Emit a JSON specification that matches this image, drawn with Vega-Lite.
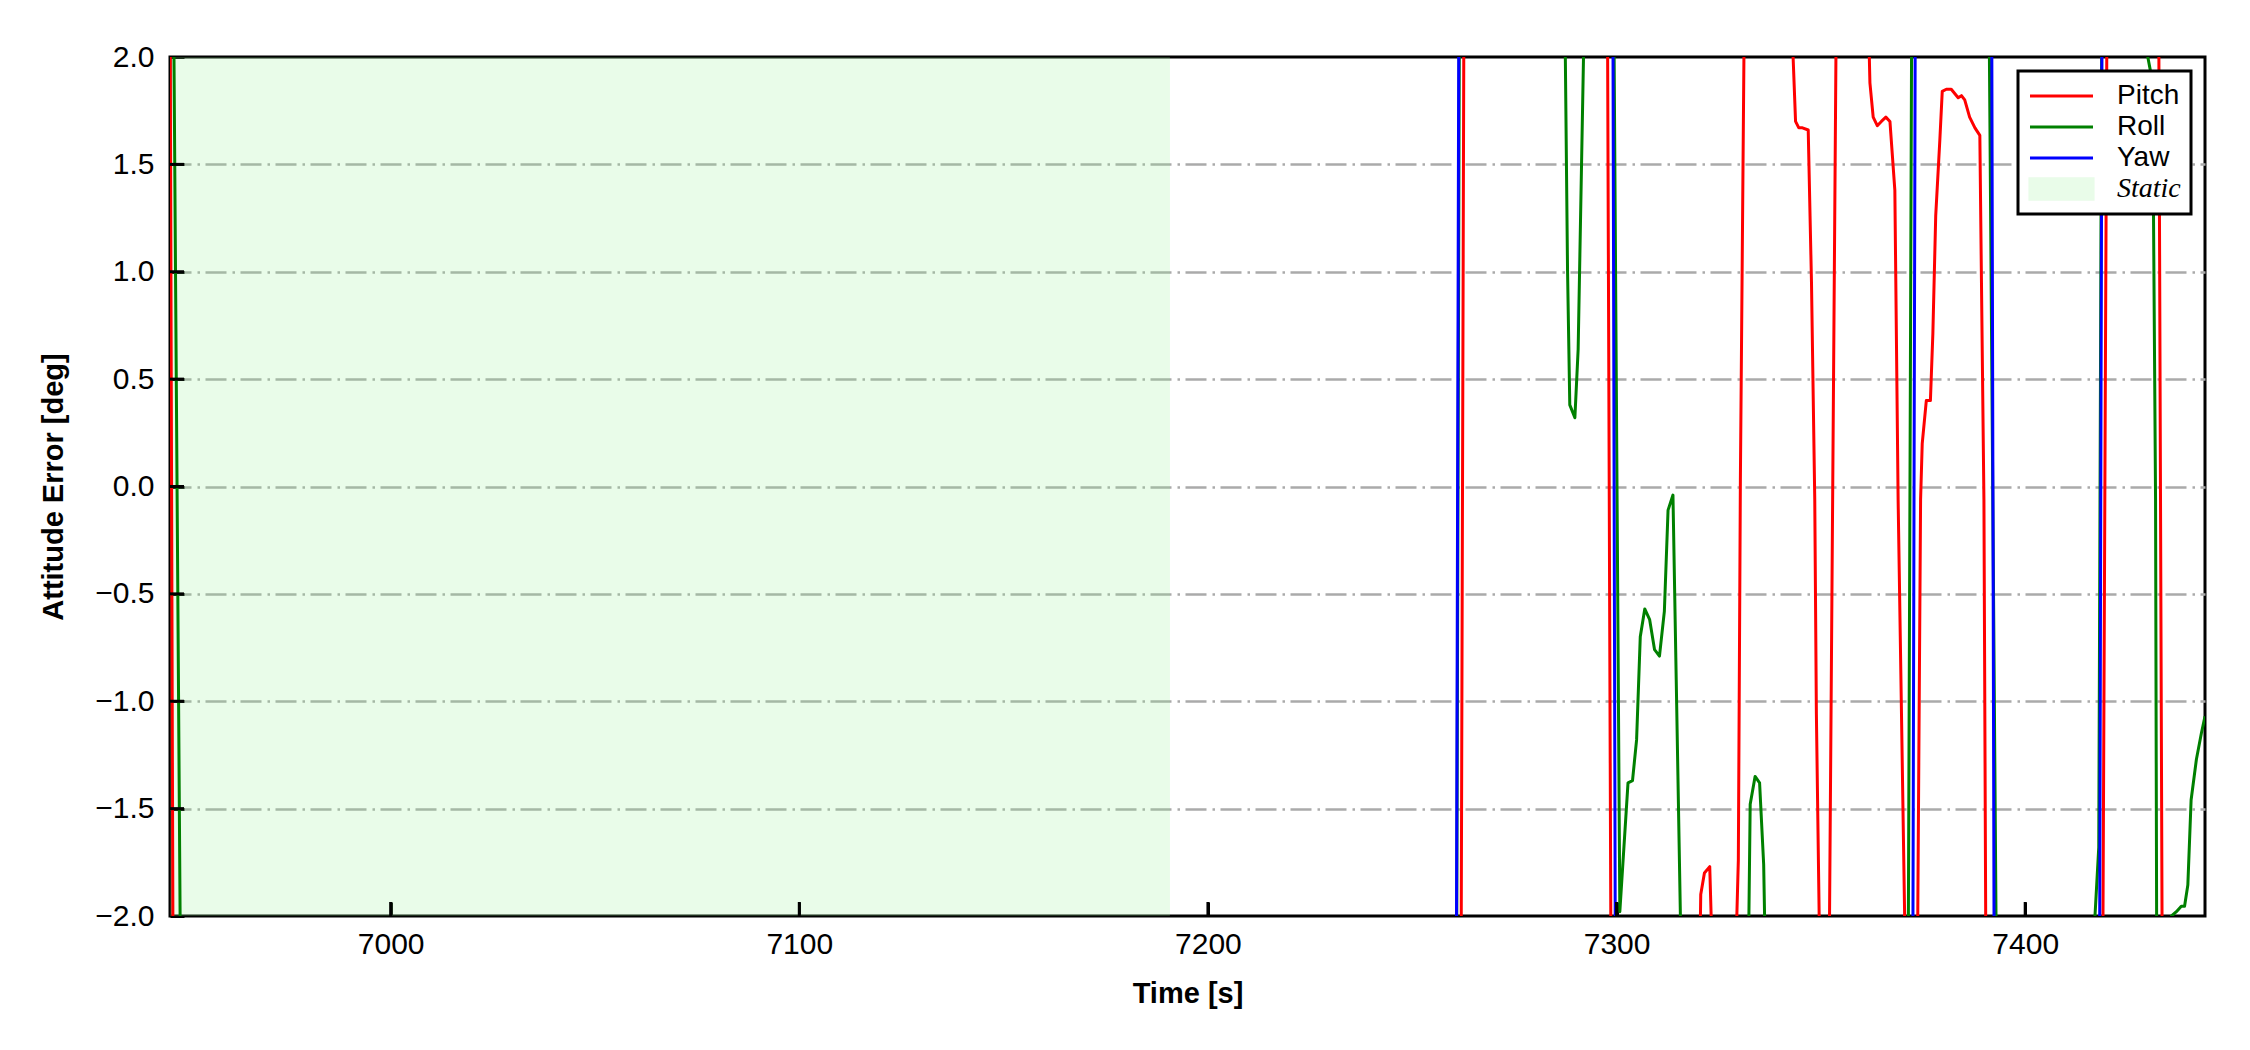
{
  "$schema": "https://vega.github.io/schema/vega-lite/v6.json",
  "width": 2035,
  "height": 859,
  "autosize": {"type": "none"},
  "padding": {"left": 170, "top": 57, "right": 45, "bottom": 134},
  "background": "white",
  "config": {
    "font": "Liberation Sans",
    "view": {"stroke": "black", "strokeWidth": 3},
    "axis": {
      "domain": false,
      "labelColor": "black",
      "titleColor": "black",
      "labelFont": "Liberation Sans",
      "titleFont": "Liberation Sans",
      "labelFontSize": 30,
      "titleFontSize": 29,
      "titleFontWeight": "bold",
      "tickColor": "black",
      "tickWidth": 3,
      "tickSize": -14
    }
  },
  "layer": [
    {
      "data": {"values": [{"t0": 6946, "t1": 7190.7}]},
      "mark": {"type": "rect", "color": "#90ee90", "opacity": 0.2},
      "encoding": {
        "x": {
          "field": "t0", "type": "quantitative",
          "scale": {"domain": [6946, 7444], "nice": false, "zero": false},
          "axis": {"values": [7000, 7100, 7200, 7300, 7400], "format": "d", "grid": false, "labelPadding": 27, "title": "Time [s]", "titlePadding": 20}
        },
        "x2": {"field": "t1"}
      }
    },
    {
      "data": {"values": [
        {"t": 6946.0, "v": 2.4, "s": "Pitch"},
        {"t": 6946.8, "v": -2.6, "s": "Pitch"},
        {"t": 7261.9, "v": -2.6, "s": "Pitch"},
        {"t": 7262.7, "v": 2.6, "s": "Pitch"},
        {"t": 7297.7, "v": 2.6, "s": "Pitch"},
        {"t": 7298.7, "v": -2.6, "s": "Pitch"},
        {"t": 7320.3, "v": -2.3, "s": "Pitch"},
        {"t": 7320.6, "v": -1.9, "s": "Pitch"},
        {"t": 7321.5, "v": -1.8, "s": "Pitch"},
        {"t": 7322.8, "v": -1.77, "s": "Pitch"},
        {"t": 7323.6, "v": -2.3, "s": "Pitch"},
        {"t": 7329.0, "v": -2.3, "s": "Pitch"},
        {"t": 7329.8, "v": -1.74, "s": "Pitch"},
        {"t": 7330.3, "v": 0.03, "s": "Pitch"},
        {"t": 7331.3, "v": 2.3, "s": "Pitch"},
        {"t": 7342.8, "v": 2.2, "s": "Pitch"},
        {"t": 7343.8, "v": 1.7, "s": "Pitch"},
        {"t": 7344.6, "v": 1.67, "s": "Pitch"},
        {"t": 7345.5, "v": 1.67, "s": "Pitch"},
        {"t": 7346.9, "v": 1.66, "s": "Pitch"},
        {"t": 7347.7, "v": 0.95, "s": "Pitch"},
        {"t": 7348.5, "v": -0.06, "s": "Pitch"},
        {"t": 7348.9, "v": -1.06, "s": "Pitch"},
        {"t": 7349.8, "v": -2.3, "s": "Pitch"},
        {"t": 7352.0, "v": -2.3, "s": "Pitch"},
        {"t": 7353.8, "v": 2.3, "s": "Pitch"},
        {"t": 7361.6, "v": 2.2, "s": "Pitch"},
        {"t": 7362.0, "v": 1.88, "s": "Pitch"},
        {"t": 7362.8, "v": 1.72, "s": "Pitch"},
        {"t": 7363.8, "v": 1.68, "s": "Pitch"},
        {"t": 7364.8, "v": 1.7, "s": "Pitch"},
        {"t": 7365.9, "v": 1.72, "s": "Pitch"},
        {"t": 7366.9, "v": 1.7, "s": "Pitch"},
        {"t": 7368.1, "v": 1.38, "s": "Pitch"},
        {"t": 7368.9, "v": -0.06, "s": "Pitch"},
        {"t": 7370.5, "v": -2.0, "s": "Pitch"},
        {"t": 7370.8, "v": -2.3, "s": "Pitch"},
        {"t": 7373.6, "v": -2.3, "s": "Pitch"},
        {"t": 7374.4, "v": -0.06, "s": "Pitch"},
        {"t": 7374.8, "v": 0.2, "s": "Pitch"},
        {"t": 7375.8, "v": 0.4, "s": "Pitch"},
        {"t": 7376.8, "v": 0.4, "s": "Pitch"},
        {"t": 7377.4, "v": 0.71, "s": "Pitch"},
        {"t": 7378.1, "v": 1.26, "s": "Pitch"},
        {"t": 7379.1, "v": 1.61, "s": "Pitch"},
        {"t": 7379.7, "v": 1.84, "s": "Pitch"},
        {"t": 7380.7, "v": 1.85, "s": "Pitch"},
        {"t": 7381.9, "v": 1.85, "s": "Pitch"},
        {"t": 7383.6, "v": 1.81, "s": "Pitch"},
        {"t": 7384.4, "v": 1.82, "s": "Pitch"},
        {"t": 7385.2, "v": 1.8, "s": "Pitch"},
        {"t": 7386.4, "v": 1.72, "s": "Pitch"},
        {"t": 7387.7, "v": 1.67, "s": "Pitch"},
        {"t": 7388.9, "v": 1.635, "s": "Pitch"},
        {"t": 7389.3, "v": 0.945, "s": "Pitch"},
        {"t": 7389.9, "v": -0.06, "s": "Pitch"},
        {"t": 7390.4, "v": -2.3, "s": "Pitch"},
        {"t": 7418.9, "v": -2.6, "s": "Pitch"},
        {"t": 7420.1, "v": 2.6, "s": "Pitch"},
        {"t": 7432.6, "v": 2.6, "s": "Pitch"},
        {"t": 7433.6, "v": -2.6, "s": "Pitch"},
        {"t": 7444.0, "v": -2.6, "s": "Pitch"},

        {"t": 6946.0, "v": 4.6, "s": "Roll"},
        {"t": 6949.0, "v": -3.4, "s": "Roll"},
        {"t": 7260.8, "v": -2.6, "s": "Roll"},
        {"t": 7261.6, "v": 2.6, "s": "Roll"},
        {"t": 7287.3, "v": 2.3, "s": "Roll"},
        {"t": 7288.0, "v": 1.01, "s": "Roll"},
        {"t": 7288.55, "v": 0.38, "s": "Roll"},
        {"t": 7289.8, "v": 0.32, "s": "Roll"},
        {"t": 7290.6, "v": 0.64, "s": "Roll"},
        {"t": 7292.2, "v": 2.3, "s": "Roll"},
        {"t": 7299.3, "v": 2.3, "s": "Roll"},
        {"t": 7300.8, "v": -1.98, "s": "Roll"},
        {"t": 7302.8, "v": -1.38, "s": "Roll"},
        {"t": 7303.9, "v": -1.37, "s": "Roll"},
        {"t": 7304.9, "v": -1.18, "s": "Roll"},
        {"t": 7305.8, "v": -0.7, "s": "Roll"},
        {"t": 7306.9, "v": -0.57, "s": "Roll"},
        {"t": 7308.1, "v": -0.62, "s": "Roll"},
        {"t": 7309.3, "v": -0.76, "s": "Roll"},
        {"t": 7310.5, "v": -0.79, "s": "Roll"},
        {"t": 7311.7, "v": -0.58, "s": "Roll"},
        {"t": 7312.6, "v": -0.11, "s": "Roll"},
        {"t": 7313.8, "v": -0.04, "s": "Roll"},
        {"t": 7314.6, "v": -0.9, "s": "Roll"},
        {"t": 7315.9, "v": -2.3, "s": "Roll"},
        {"t": 7332.2, "v": -2.3, "s": "Roll"},
        {"t": 7332.7, "v": -1.48, "s": "Roll"},
        {"t": 7333.9, "v": -1.35, "s": "Roll"},
        {"t": 7335.0, "v": -1.38, "s": "Roll"},
        {"t": 7336.0, "v": -1.76, "s": "Roll"},
        {"t": 7336.5, "v": -2.3, "s": "Roll"},
        {"t": 7371.3, "v": -2.6, "s": "Roll"},
        {"t": 7372.3, "v": 2.6, "s": "Roll"},
        {"t": 7391.0, "v": 2.6, "s": "Roll"},
        {"t": 7393.1, "v": -2.6, "s": "Roll"},
        {"t": 7416.5, "v": -2.2, "s": "Roll"},
        {"t": 7418.0, "v": -1.68, "s": "Roll"},
        {"t": 7418.8, "v": 2.5, "s": "Roll"},
        {"t": 7429.3, "v": 2.3, "s": "Roll"},
        {"t": 7430.0, "v": 2.0, "s": "Roll"},
        {"t": 7430.6, "v": 1.94, "s": "Roll"},
        {"t": 7431.4, "v": 1.26, "s": "Roll"},
        {"t": 7431.9, "v": -0.06, "s": "Roll"},
        {"t": 7432.2, "v": -2.3, "s": "Roll"},
        {"t": 7435.0, "v": -2.3, "s": "Roll"},
        {"t": 7435.8, "v": -2.0, "s": "Roll"},
        {"t": 7437.0, "v": -1.98, "s": "Roll"},
        {"t": 7438.2, "v": -1.955, "s": "Roll"},
        {"t": 7439.0, "v": -1.955, "s": "Roll"},
        {"t": 7439.8, "v": -1.856, "s": "Roll"},
        {"t": 7440.6, "v": -1.46, "s": "Roll"},
        {"t": 7441.9, "v": -1.27, "s": "Roll"},
        {"t": 7443.1, "v": -1.15, "s": "Roll"},
        {"t": 7444.0, "v": -1.07, "s": "Roll"},

        {"t": 6946.0, "v": -3, "s": "Yaw"},
        {"t": 7260.7, "v": -3, "s": "Yaw"},
        {"t": 7261.5, "v": 3, "s": "Yaw"},
        {"t": 7299.0, "v": 3, "s": "Yaw"},
        {"t": 7299.8, "v": -3, "s": "Yaw"},
        {"t": 7372.4, "v": -3, "s": "Yaw"},
        {"t": 7373.2, "v": 3, "s": "Yaw"},
        {"t": 7391.7, "v": 3, "s": "Yaw"},
        {"t": 7392.5, "v": -3, "s": "Yaw"},
        {"t": 7418.1, "v": -3, "s": "Yaw"},
        {"t": 7418.9, "v": 3, "s": "Yaw"},
        {"t": 7444.0, "v": 3, "s": "Yaw"}
      ]},
      "mark": {"type": "line", "clip": true, "strokeWidth": 3, "strokeJoin": "round"},
      "encoding": {
        "x": {
          "field": "t", "type": "quantitative",
          "scale": {"domain": [6946, 7444], "nice": false, "zero": false},
          "axis": {"values": [7000, 7100, 7200, 7300, 7400], "format": "d", "grid": false, "labelPadding": 27, "title": "Time [s]", "titlePadding": 20}
        },
        "y": {
          "field": "v", "type": "quantitative",
          "scale": {"domain": [-2, 2], "nice": false, "zero": false},
          "axis": {
            "values": [-2, -1.5, -1, -0.5, 0, 0.5, 1, 1.5, 2],
            "format": ".1f",
            "grid": true,
            "gridColor": "#aaaaaa",
            "gridDash": [21, 6, 2.5, 5.5],
            "gridWidth": 2.5,
            "gridOpacity": {"condition": {"test": "abs(datum.value) >= 2", "value": 0}, "value": 1},
            "labelPadding": 30,
            "title": "Attitude Error [deg]",
            "titlePadding": 26
          }
        },
        "color": {
          "field": "s", "type": "nominal",
          "scale": {"domain": ["Pitch", "Roll", "Yaw", "Static"], "range": ["#ff0000", "#008000", "#0000ff", "#e9fce9"]},
          "legend": {
            "title": null,
            "orient": "top-right",
            "offset": 14,
            "padding": 10,
            "strokeColor": "black",
            "fillColor": "white",
            "labelFontSize": 28,
            "labelFont": "Liberation Sans",
            "labelColor": "black",
            "labelOffset": 22,
            "symbolSize": 3969,
            "symbolStrokeWidth": 3.2,
            "symbolType": "stroke",
            "clipHeight": 30,
            "rowPadding": 1,
            "encode": {
              "legend": {
                "update": {
                  "strokeWidth": {"value": 3}
                }
              },
              "symbols": {
                "update": {
                  "shape": {"signal": "datum.value === 'Static' ? 'M-1,-0.32L1,-0.32L1,0.32L-1,0.32Z' : 'stroke'"},
                  "fill": {"signal": "datum.value === 'Static' ? '#e9fce9' : 'transparent'"},
                  "stroke": {"signal": "datum.value === 'Static' ? 'transparent' : scale('color', datum.value)"},
                  "opacity": {"value": 1}
                }
              },
              "labels": {
                "update": {
                  "font": {"signal": "datum.value === 'Static' ? 'Liberation Serif' : 'Liberation Sans'"},
                  "fontStyle": {"signal": "datum.value === 'Static' ? 'italic' : 'normal'"}
                }
              }
            }
          }
        }
      }
    },
    {
      "data": {"values": [{"t": 7000}, {"t": 7100}, {"t": 7200}, {"t": 7300}, {"t": 7400}]},
      "mark": {"type": "tick", "orient": "vertical", "size": 14, "thickness": 3, "color": "black", "opacity": 1, "yOffset": -7},
      "encoding": {
        "x": {"field": "t", "type": "quantitative"},
        "y": {"datum": -2, "type": "quantitative"}
      }
    },
    {
      "data": {"values": [{"v": -1.5}, {"v": -1}, {"v": -0.5}, {"v": 0}, {"v": 0.5}, {"v": 1}, {"v": 1.5}]},
      "mark": {"type": "tick", "orient": "horizontal", "size": 14, "thickness": 3, "color": "black", "opacity": 1, "xOffset": 7},
      "encoding": {
        "y": {"field": "v", "type": "quantitative"},
        "x": {"datum": 6946, "type": "quantitative"}
      }
    }
  ]
}
